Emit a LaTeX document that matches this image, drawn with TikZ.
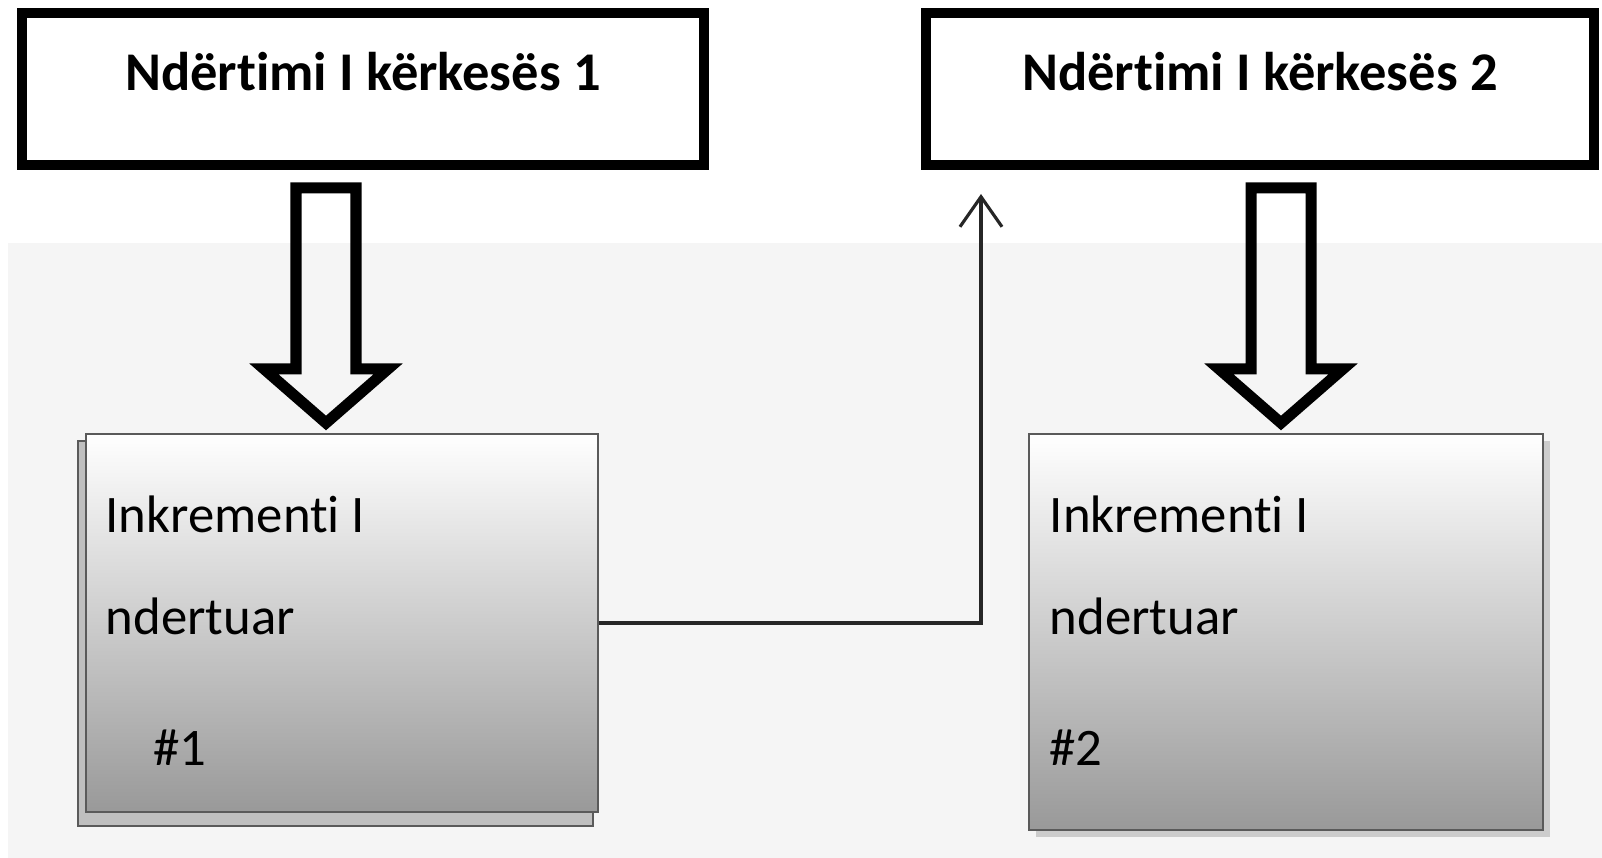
\documentclass[tikz,border=0pt]{standalone}
\usepackage{fontspec}
\setmainfont{Carlito}[Ligatures=NoCommon]
\usetikzlibrary{arrows.meta,shadows}

\definecolor{bggray}{HTML}{F5F5F5}
\definecolor{edgegray}{HTML}{5A5A5A}

\tikzset{
    reqbox/.style={draw=black, line width=0.1cm, fill=white, minimum height=1.52cm,
        text depth=0.35cm, font=\fontsize{15.5}{18}\selectfont\bfseries},
    incbox/.style={draw=edgegray, line width=0.6pt, top color=white, bottom color=black!40, inner sep=0pt},
    inctext/.style={anchor=base west, inner sep=0pt, font=\fontsize{15}{18}\selectfont},
    hollow/.style={line width=0.11cm, line join=miter},
    link/.style={draw=black!85, line width=0.9pt, -{Straight Barb[length=0.3cm, width=0.42cm]}}
}

\begin{document}
\begin{tikzpicture}[x=0.01cm, y=-0.01cm]

    \useasboundingbox (0,0) rectangle (1602,858);

    %% Background
    \fill[bggray] (8,243) rectangle (1602,858);

    %% Requirements
    \node[reqbox, minimum width=6.82cm] (req1) at (363,89) {Ndërtimi I kërkesës 1};
    \node[reqbox, minimum width=6.67cm] (req2) at (1260,89) {Ndërtimi I kërkesës 2};

    %% Increment 1
    \begin{scope}
        \draw[edgegray, fill=black!25, line width=0.6pt] (78,441) rectangle (593,826);
        \node[incbox, minimum width=5.12cm, minimum height=3.78cm] (inc1) at (342,623) {};
        \node[inctext] (inc1a) at (105,533) {Inkrementi I};
        \node[inctext] (inc1b) at (105,635) {ndertuar};
        \node[inctext] (inc1c) at (153,766) {\#1};
    \end{scope}

    %% Increment 2
    \begin{scope}
        \node[incbox, minimum width=5.14cm, minimum height=3.96cm,
            drop shadow={shadow xshift=2pt, shadow yshift=-2pt, opacity=0.35}] (inc2) at (1286,632) {};
        \node[inctext] (inc2a) at (1049,533) {Inkrementi I};
        \node[inctext] (inc2b) at (1049,635) {ndertuar};
        \node[inctext] (inc2c) at (1049,766) {\#2};
    \end{scope}

    %% Hollow arrows
    \foreach \ax in {326,1281} {
        \draw[hollow] (\ax-30,188) -- (\ax+30,188) -- (\ax+30,369) -- (\ax+62,369)
            -- (\ax,423) -- (\ax-62,369) -- (\ax-30,369) -- cycle;
    }

    %% Link from increment 1 back up
    \coordinate (up) at (981,194);
    \draw[link] (inc1.east) -| (up);

\end{tikzpicture}
\end{document}
